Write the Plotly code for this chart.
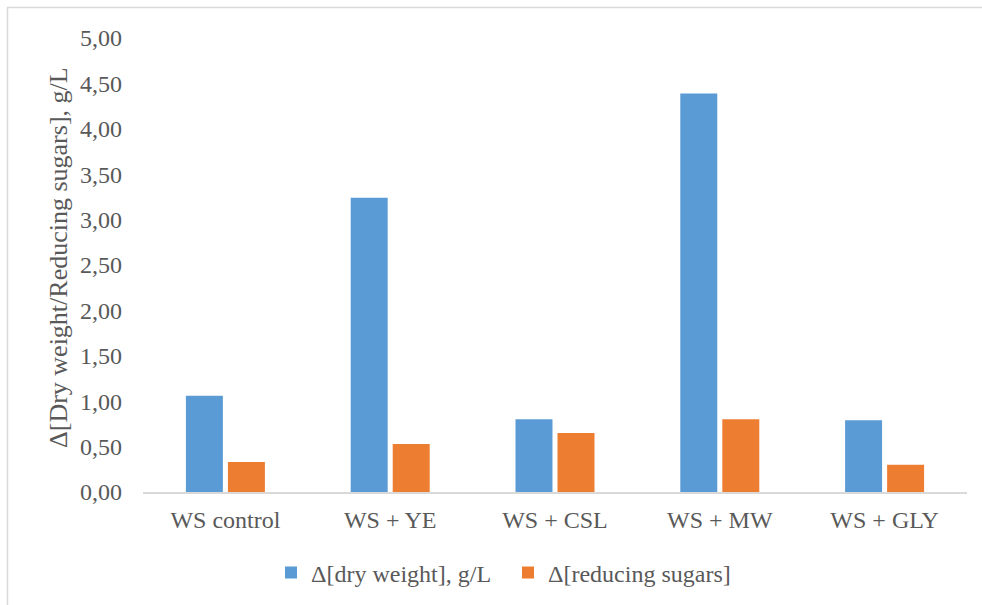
import plotly.graph_objects as go

# Fermentation supplements on wheat straw (WS)
categories = ["WS control", "WS + YE", "WS + CSL", "WS + MW", "WS + GLY"]
dry_weight = [1.06, 3.24, 0.80, 4.39, 0.79]
reducing_sugars = [0.33, 0.53, 0.65, 0.80, 0.30]

series_names = ["Δ[dry weight], g/L", "Δ[reducing sugars]"]
y_title = "Δ[Dry weight/Reducing sugars], g/L"
y_ticks = [0, 0.5, 1, 1.5, 2, 2.5, 3, 3.5, 4, 4.5, 5]

BLUE = "#5B9BD5"
ORANGE = "#ED7D31"
TEXT = "#595959"
LINE = "#D9D9D9"
FONT = '"Liberation Serif", "DejaVu Serif", serif'
FS = 24
FS_TITLE = 26

W, H = 982, 605
ML, MR, MT, MB = 143, 15, 38, 113
PW, PH = W - ML - MR, H - MT - MB


def px_x(px):
    return (px - ML) / PW


def px_y(py):
    return (H - MB - py) / PH


fig = go.Figure()
fig.add_trace(go.Bar(x=categories, y=dry_weight, name=series_names[0],
                     marker=dict(color=BLUE, line=dict(width=0))))
fig.add_trace(go.Bar(x=categories, y=reducing_sugars, name=series_names[1],
                     marker=dict(color=ORANGE, line=dict(width=0))))

fig.update_layout(
    width=W, height=H,
    margin=dict(l=ML, r=MR, t=MT, b=MB, autoexpand=False),
    paper_bgcolor="white", plot_bgcolor="white",
    font=dict(family=FONT, size=FS, color=TEXT),
    separators=", ",
    barmode="group", bargap=0.49, bargroupgap=0.12,
    showlegend=True,
    legend=dict(orientation="h", x=px_x(271), xanchor="left",
                y=px_y(573), yanchor="middle",
                font=dict(family=FONT, size=FS, color=TEXT),
                entrywidth=192, entrywidthmode="pixels",
                bgcolor="rgba(0,0,0,0)"),
    xaxis=dict(showline=True, linecolor=LINE, linewidth=1.5,
               showgrid=False, ticks="", ticklabelstandoff=5,
               tickfont=dict(family=FONT, size=FS, color=TEXT)),
    yaxis=dict(range=[0, 5], tickvals=y_ticks, tickformat=".2f",
               showgrid=False, zeroline=False, showline=False,
               ticks="", ticklabelstandoff=20,
               tickfont=dict(family=FONT, size=FS, color=TEXT)),
    annotations=[dict(text=y_title, textangle=-90, showarrow=False,
                      xref="paper", yref="paper", x=px_x(58), y=px_y(258),
                      xanchor="center", yanchor="middle",
                      font=dict(family=FONT, size=FS_TITLE, color=TEXT))],
    shapes=[dict(type="rect", xref="paper", yref="paper",
                 x0=px_x(7.5), x1=px_x(W + 20), y0=px_y(H + 20), y1=px_y(7.5),
                 line=dict(color=LINE, width=1.5), fillcolor="rgba(0,0,0,0)",
                 layer="below")],
)

fig.write_html("out.html")
